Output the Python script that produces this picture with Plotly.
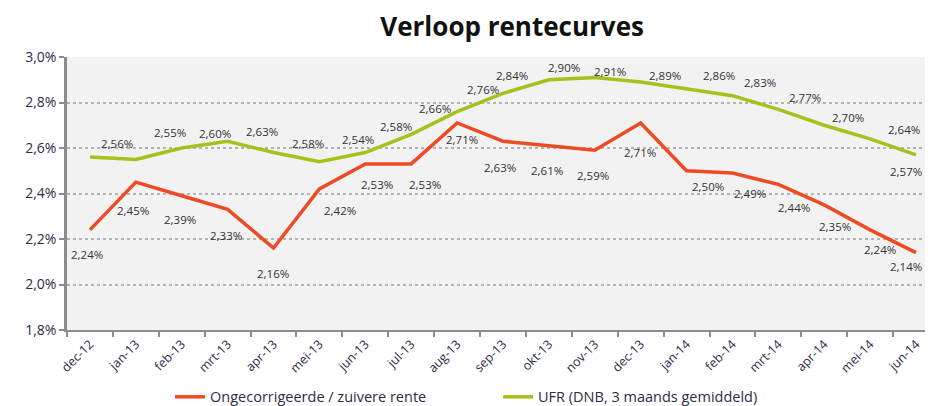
import plotly.graph_objects as go

categories = ["dec-12", "jan-13", "feb-13", "mrt-13", "apr-13", "mei-13", "jun-13",
              "jul-13", "aug-13", "sep-13", "okt-13", "nov-13", "dec-13", "jan-14",
              "feb-14", "mrt-14", "apr-14", "mei-14", "jun-14"]
red_values = [2.24, 2.45, 2.39, 2.33, 2.16, 2.42, 2.53, 2.53, 2.71, 2.63, 2.61,
              2.59, 2.71, 2.50, 2.49, 2.44, 2.35, 2.24, 2.14]
green_values = [2.56, 2.55, 2.60, 2.63, 2.58, 2.54, 2.58, 2.66, 2.76, 2.84, 2.90,
                2.91, 2.89, 2.86, 2.83, 2.77, 2.70, 2.64, 2.57]
red_name = "Ongecorrigeerde / zuivere rente"
green_name = "UFR (DNB, 3 maands gemiddeld)"
y_ticks = [1.8, 2.0, 2.2, 2.4, 2.6, 2.8, 3.0]

# label offsets (px) -- styling only
red_dx = [-3, -3, -2, -2, -1, 21, 12, 14, 5, -3, -2, -2, -1, 21, 18, 16, 11, 10, -10]
red_dy = [-25, -28, -24, -26, -25, -22, -21, -21, -17, -26, -25, -25, -30, -16, -20, -23, -22, -20, -14]
green_dx = [27, 34, 33, 34, 34, 39, 31, 24, 26, 9, 15, 15, 24, 32, 28, 27, 24, 34, -10]
green_dy = [14, 27, 15, 10, 9, 22, 26, 26, 22, 18, 12, 6, 7, 13, 13, 12, 8, 9, -17]

RED = "#ee4a24"
GREEN = "#a7c01c"
FONT = "Open Sans"
TXT = "#333333"

def pct(v):
    return f"{v:.2f}%".replace(".", ",")

fig = go.Figure()
fig.add_trace(go.Scatter(x=categories, y=red_values, mode="lines", name=red_name,
                         line=dict(color=RED, width=3.5)))
fig.add_trace(go.Scatter(x=categories, y=green_values, mode="lines", name=green_name,
                         line=dict(color=GREEN, width=3.5)))

annotations = []
for i, (c, v) in enumerate(zip(categories, red_values)):
    annotations.append(dict(x=c, y=v, xref="x", yref="y", text=pct(v), showarrow=False,
                            xshift=red_dx[i], yshift=red_dy[i],
                            font=dict(family=FONT, size=11.5, color=TXT)))
for i, (c, v) in enumerate(zip(categories, green_values)):
    annotations.append(dict(x=c, y=v, xref="x", yref="y", text=pct(v), showarrow=False,
                            xshift=green_dx[i], yshift=green_dy[i],
                            font=dict(family=FONT, size=11.5, color=TXT)))

# page body adds an 8px offset; figure is sized to fit the window
fig.update_layout(
    width=925, height=398, autosize=False,
    margin=dict(l=59, r=0, t=49, b=76, autoexpand=False),
    paper_bgcolor="white", plot_bgcolor="#f2f2f2",
    title=dict(text="<b>Verloop rentecurves</b>", x=0.545, xanchor="center", y=0.953, yanchor="middle",
               font=dict(family=FONT, size=26, color="#111111")),
    font=dict(family=FONT, color=TXT),
    showlegend=True,
    legend=dict(orientation="h", x=0.119, xanchor="left", y=-0.245, yanchor="middle",
                font=dict(family=FONT, size=14.5, color="#2c2c48"),
                bgcolor="rgba(0,0,0,0)", entrywidth=283, entrywidthmode="pixels"),
    annotations=annotations,
)
fig.update_xaxes(
    type="category", range=[-0.5, 18.37], tickangle=-45, tickson="boundaries",
    ticks="outside", ticklen=5, tickcolor="#8c8c8c", tickwidth=1.5, automargin=False,
    showline=True, linecolor="#8c8c8c", linewidth=2, showgrid=False,
    tickfont=dict(family=FONT, size=12.5, color="#2c2c48"), fixedrange=True,
)
fig.update_yaxes(
    range=[1.8, 3.0], tickvals=y_ticks, ticktext=[f"{t:.1f}%".replace(".", ",") for t in y_ticks],
    ticks="outside", ticklen=5, tickcolor="#8c8c8c", tickwidth=1.5, automargin=False,
    showline=True, linecolor="#8c8c8c", linewidth=2.5,
    showgrid=True, gridcolor="#b4b4b4", gridwidth=1.5, griddash="dot",
    zeroline=False, tickfont=dict(family=FONT, size=14, color="#2c2c48"), fixedrange=True,
)
fig.write_html("out.html")
